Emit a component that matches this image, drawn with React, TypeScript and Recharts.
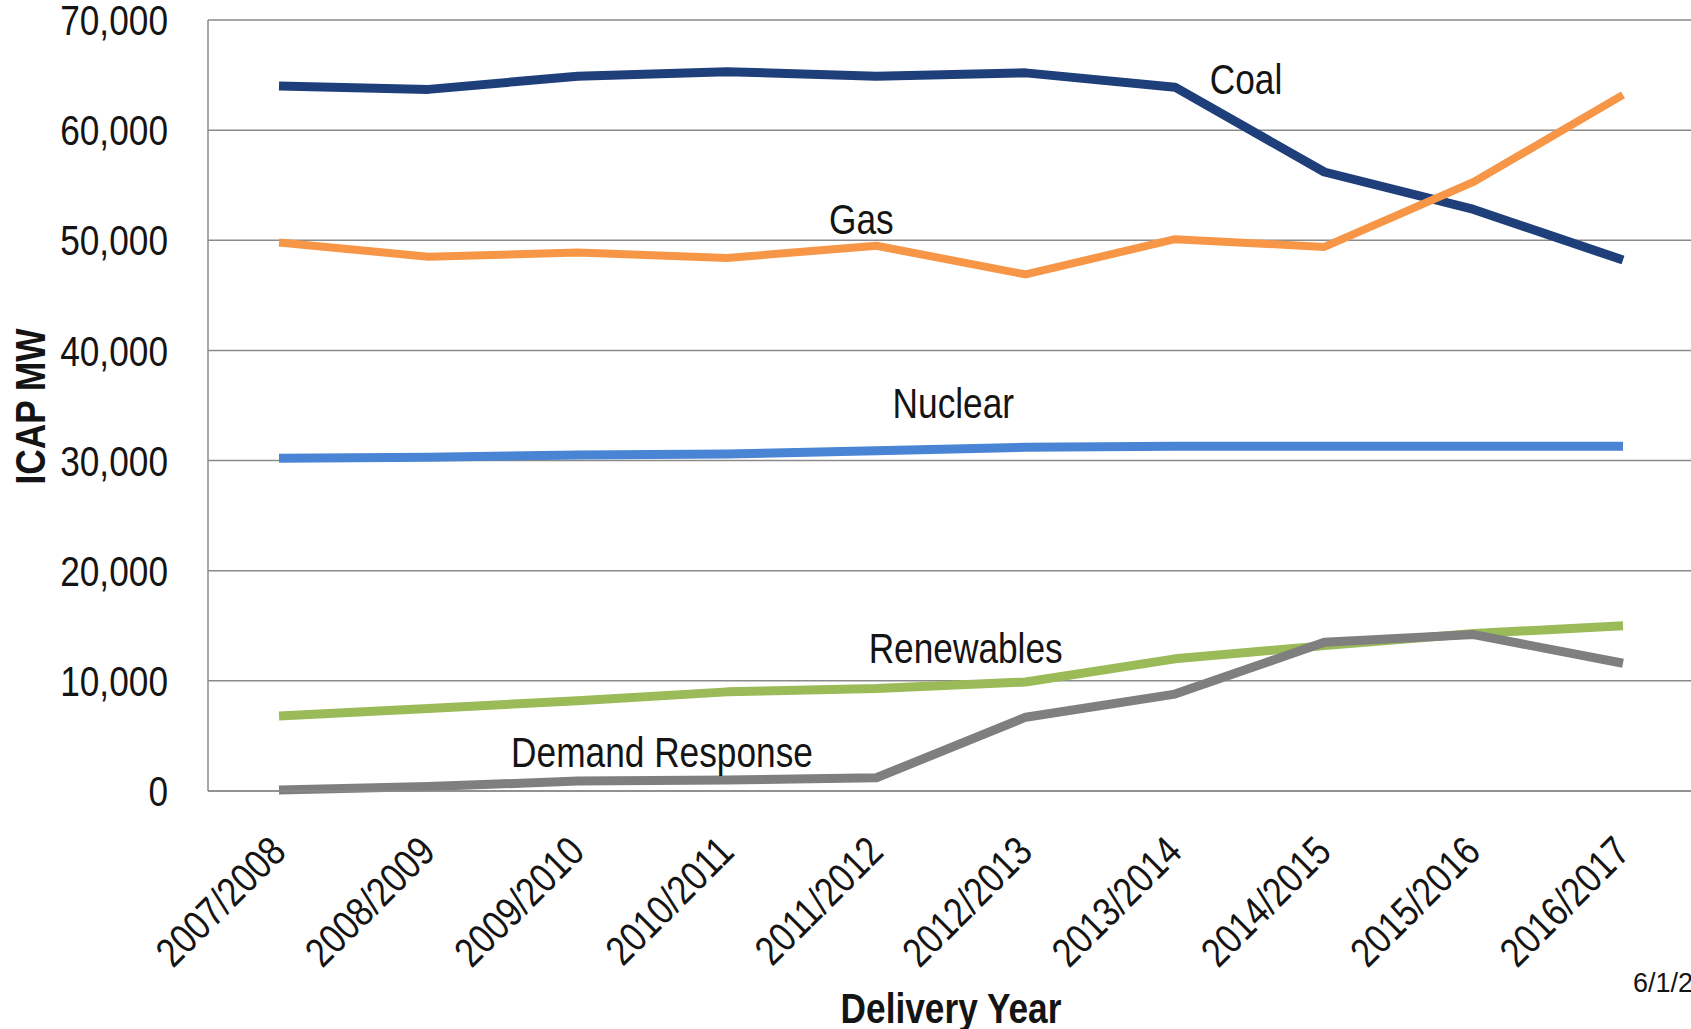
import React from 'react';
import {
  LineChart,
  Line,
  XAxis,
  YAxis,
  CartesianGrid,
  ReferenceDot,
} from 'recharts';

const COAL = '#1F3F7A';
const GAS = '#F79646';
const NUCLEAR = '#4A84D4';
const RENEWABLES = '#9BBB59';
const DEMAND = '#7F7F7F';
const GRID = '#8A8A8A';
const INK = '#141414';
const FONT = '"Liberation Sans", Arial, sans-serif';
const NARROW = 0.84;

const years = [
  '2007/2008', '2008/2009', '2009/2010', '2010/2011', '2011/2012',
  '2012/2013', '2013/2014', '2014/2015', '2015/2016', '2016/2017',
];
const coal = [64000, 63700, 64900, 65300, 64900, 65200, 63900, 56200, 52800, 48200];
const gas = [49800, 48500, 48900, 48400, 49500, 46900, 50100, 49400, 55300, 63200];
const nuclear = [30200, 30300, 30500, 30600, 30900, 31200, 31300, 31300, 31300, 31300];
const renewables = [6800, 7500, 8200, 9000, 9300, 9900, 12000, 13200, 14300, 15000];
const demandResponse = [100, 400, 900, 1000, 1200, 6700, 8800, 13500, 14200, 11600];
const yTicks = [0, 10000, 20000, 30000, 40000, 50000, 60000, 70000];

const seriesLabels = [
  { text: 'Coal', at: '2013/2014', value: 64700, dx: 71 },
  { text: 'Gas', at: '2011/2012', value: 51900, dx: -15 },
  { text: 'Nuclear', at: '2011/2012', value: 35200, dx: 77 },
  { text: 'Renewables', at: '2012/2013', value: 13000, dx: -60 },
  { text: 'Demand Response', at: '2010/2011', value: 3550, dx: -65 },
];

const rows = years.map((year, i) => ({
  year,
  coal: coal[i],
  gas: gas[i],
  nuclear: nuclear[i],
  renewables: renewables[i],
  demandResponse: demandResponse[i],
}));

// condensed text, the source uses a narrow Arial
function NarrowText({ x, y, text, anchor = 'middle', size = 42, bold = false, rotate = 0, dy = '0.36em' }: any) {
  return (
    <g transform={`translate(${x},${y}) rotate(${rotate})`}>
      <text
        transform={`scale(${NARROW},1)`}
        textAnchor={anchor}
        dy={dy}
        fontSize={size}
        fontWeight={bold ? 'bold' : 'normal'}
        fontFamily={FONT}
        fill={INK}
      >
        {text}
      </text>
    </g>
  );
}

const YTick = ({ x, y, payload }: any) => (
  <NarrowText x={x} y={y} text={payload.value.toLocaleString('en-US')} anchor="end" />
);

const XTick = ({ x, y, payload }: any) => (
  <NarrowText x={x + 9} y={y + 63} text={payload.value} anchor="end" rotate={-45} dy={0} size={41} />
);

export default function App() {
  return (
    <div
      style={{
        position: 'absolute',
        left: 0,
        top: 0,
        width: 1691,
        height: 1029,
        overflow: 'hidden',
        background: '#fff',
      }}
    >
      <LineChart width={1700} height={1029} data={rows} margin={{ top: 20, right: 6, left: 0, bottom: 0 }}>
        <CartesianGrid vertical={false} stroke={GRID} strokeWidth={1.5} />
        <XAxis
          dataKey="year"
          interval={0}
          height={238}
          padding={{ left: 71, right: 71 }}
          axisLine={{ stroke: GRID, strokeWidth: 1.5 }}
          tickLine={false}
          tickSize={0}
          tickMargin={0}
          tick={<XTick />}
          label={{
            content: ({ viewBox }: any) => (
              <NarrowText
                x={viewBox.x + viewBox.width / 2}
                y={viewBox.y + 217}
                text="Delivery Year"
                bold
              />
            ),
          }}
        />
        <YAxis
          width={208}
          domain={[0, 70000]}
          ticks={yTicks}
          interval={0}
          axisLine={{ stroke: GRID, strokeWidth: 1.5 }}
          tickLine={false}
          tickSize={0}
          tickMargin={40}
          tick={<YTick />}
          label={{
            content: ({ viewBox }: any) => (
              <NarrowText
                x={viewBox.x + 30}
                y={viewBox.y + viewBox.height / 2 + 1}
                text="ICAP MW"
                bold
                rotate={-90}
              />
            ),
          }}
        />
        <Line dataKey="nuclear" stroke={NUCLEAR} strokeWidth={9} dot={false} strokeLinejoin="round" isAnimationActive={false} />
        <Line dataKey="renewables" stroke={RENEWABLES} strokeWidth={9} dot={false} strokeLinejoin="round" isAnimationActive={false} />
        <Line dataKey="demandResponse" stroke={DEMAND} strokeWidth={9} dot={false} strokeLinejoin="round" isAnimationActive={false} />
        <Line dataKey="coal" stroke={COAL} strokeWidth={9} dot={false} strokeLinejoin="round" isAnimationActive={false} />
        <Line dataKey="gas" stroke={GAS} strokeWidth={8} dot={false} strokeLinejoin="round" isAnimationActive={false} />
        {seriesLabels.map((l) => (
          <ReferenceDot
            key={l.text}
            x={l.at}
            y={l.value}
            r={0}
            fill="none"
            stroke="none"
            label={{
              content: ({ viewBox }: any) => (
                <NarrowText x={viewBox.x + viewBox.width / 2 + l.dx} y={viewBox.y + viewBox.height / 2} text={l.text} />
              ),
            }}
          />
        ))}
      </LineChart>
      <svg style={{ position: 'absolute', left: 0, top: 0 }} width={1691} height={1029} pointerEvents="none">
        <text x={1633} y={992} fontSize={27} fontFamily={FONT} fill={INK}>
          6/1/2016
        </text>
      </svg>
    </div>
  );
}
